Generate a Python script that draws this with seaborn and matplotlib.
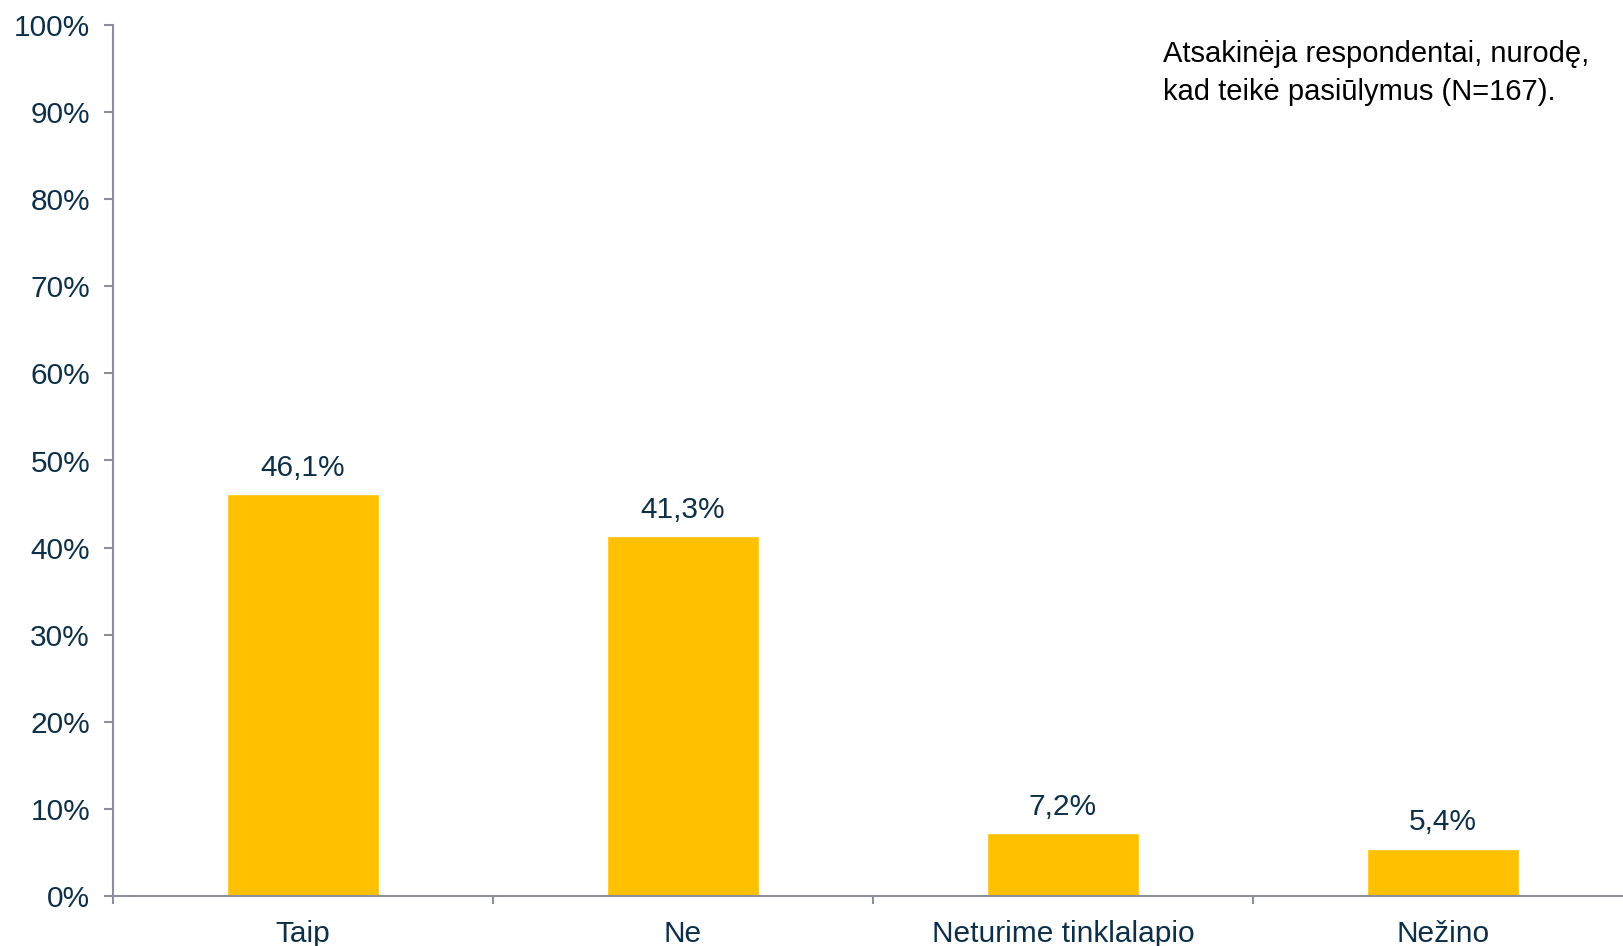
import matplotlib
matplotlib.use('Agg')
import matplotlib.pyplot as plt
import seaborn as sns
import pandas as pd

# 데이터
categories = ['Taip', 'Ne', 'Neturime tinklalapio', 'Nežino']
values = [46.1, 41.3, 7.2, 5.4]
value_labels = ['46,1%', '41,3%', '7,2%', '5,4%']
note = 'Atsakinėja respondentai, nurodę,\nkad teikė pasiūlymus (N=167).'

sns.set_style('white')
plt.rcParams['font.family'] = ['Liberation Sans', 'DejaVu Sans']

navy = '#0D3048'
grey = '#8C8F99'

df = pd.DataFrame({'cat': categories, 'val': values})

W, H = 1624, 946
fig = plt.figure(figsize=(W / 100, H / 100), dpi=100)
# 축 위치 (픽셀 기준)
ax = fig.add_axes([113 / W, (H - 896) / H, 1 - 113 / W, (896 - 25) / H])

sns.barplot(data=df, x='cat', y='val', color='#FFC000', width=0.4,
            saturation=1, ax=ax)

for i, (v, lab) in enumerate(zip(values, value_labels)):
    ax.annotate(lab, (i, v), xytext=(0, 9), textcoords='offset points',
                ha='center', va='bottom', fontsize=21.5, color=navy)

ax.set_ylim(0, 100)
ax.set_xlim(-0.5, -0.5 + (W - 113) / 380)
ax.set_yticks(range(0, 101, 10))
ax.set_yticklabels([f'{t}%' for t in range(0, 101, 10)])
ax.set_xlabel('')
ax.set_ylabel('')

for s in ['top', 'right']:
    ax.spines[s].set_visible(False)
for s in ['left', 'bottom']:
    ax.spines[s].set_color(grey)
    ax.spines[s].set_linewidth(1.5)

ax.tick_params(axis='y', length=6.5, width=1.5, color=grey, labelsize=21.5,
               labelcolor=navy, left=True, pad=10)
ax.tick_params(axis='x', which='major', length=0, labelsize=21.5,
               labelcolor=navy, pad=17)
ax.set_xticks([-0.5, 0.5, 1.5, 2.5], minor=True)
ax.tick_params(axis='x', which='minor', length=6, width=1.5, color=grey,
               bottom=True)

fig.text(1163 / W, 1 - 40 / H, note, ha='left', va='top',
         fontsize=21, color='black', linespacing=1.45)

fig.savefig('out.png', dpi=100)
